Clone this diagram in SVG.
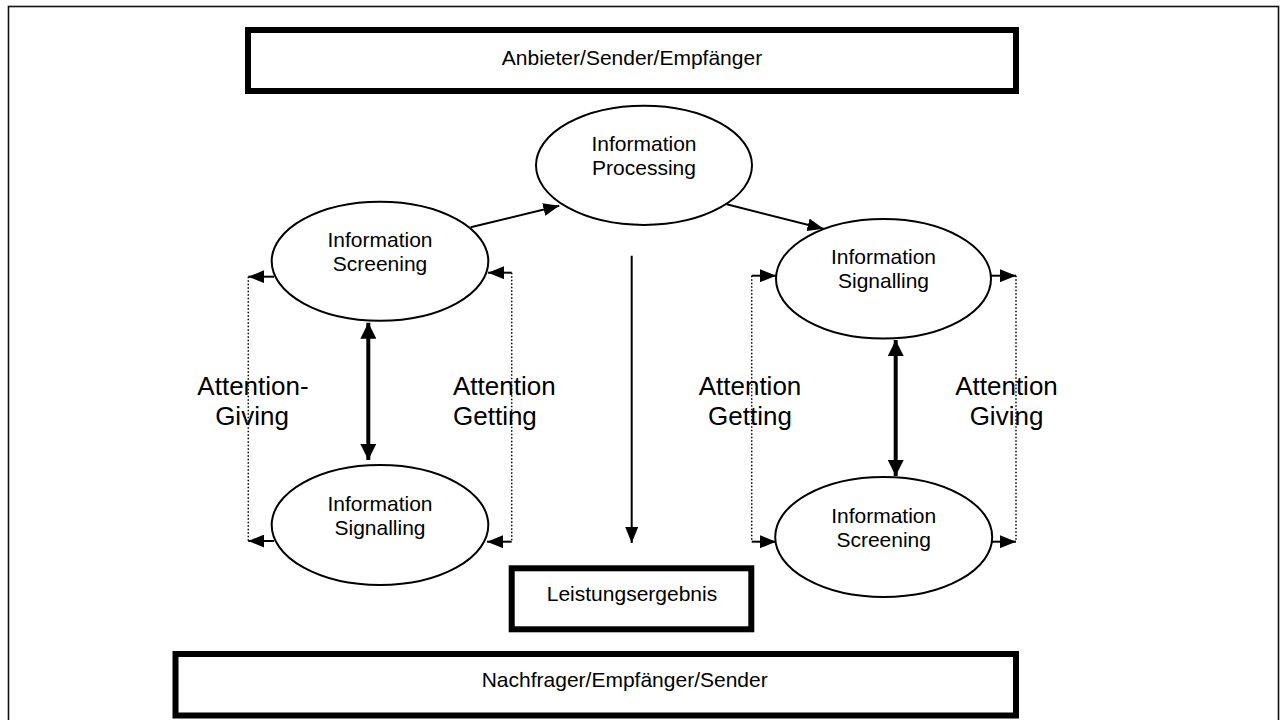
<svg xmlns="http://www.w3.org/2000/svg" width="1281" height="720" viewBox="0 0 1281 720">
  <defs>
    <style>
      .frame { fill: none; stroke: #111; stroke-width: 1.6; }
      .box { fill: #fff; stroke: #000; stroke-width: 6; }
      .ell { fill: #fff; stroke: #000; stroke-width: 2; }
      .lbl { font-family: "Liberation Sans", Arial, sans-serif; font-size: 21px; fill: #000; text-anchor: middle; }
      .boxlbl { font-family: "Liberation Sans", Arial, sans-serif; font-size: 21px; fill: #000; text-anchor: middle; }
      .big { font-family: "Liberation Sans", Arial, sans-serif; font-size: 26px; fill: #000; text-anchor: middle; }
      .start { text-anchor: start; }
      .thin { fill: none; stroke: #000; stroke-width: 2; }
      .thick { fill: none; stroke: #000; stroke-width: 4; }
      .dot { fill: none; stroke: #000; stroke-width: 1.5; stroke-dasharray: 1.5 2; }
    </style>
    <marker id="head" markerUnits="userSpaceOnUse" markerWidth="16" markerHeight="13" refX="16" refY="6.5" orient="auto">
      <path d="M0,0 L16,6.5 L0,13 z" fill="#000"/>
    </marker>
    <marker id="headBig" markerUnits="userSpaceOnUse" markerWidth="16" markerHeight="16" refX="16" refY="8" orient="auto-start-reverse">
      <path d="M0,0 L16,8 L0,16 z" fill="#000"/>
    </marker>
  </defs>

  <rect width="1281" height="720" fill="#fff"/>
  <rect class="frame" x="8.5" y="6.5" width="1270" height="730"/>

  <!-- attention labels -->
  <g id="label-attention-giving-left">
    <text class="big" x="253" y="395">Attention-</text>
    <text class="big" x="252" y="425">Giving</text>
  </g>
  <g id="label-attention-getting-left">
    <text class="big start" x="453" y="395">Attention</text>
    <text class="big start" x="453" y="425">Getting</text>
  </g>
  <g id="label-attention-getting-right">
    <text class="big" x="750" y="395">Attention</text>
    <text class="big" x="750" y="425">Getting</text>
  </g>
  <g id="label-attention-giving-right">
    <text class="big" x="1006.5" y="395">Attention</text>
    <text class="big" x="1006.5" y="425">Giving</text>
  </g>

  <!-- connectors -->
  <g id="connectors">
    <!-- screening to processing, processing to signalling -->
    <line class="thin" x1="470.7" y1="227.3" x2="559.3" y2="205.7" marker-end="url(#head)"/>
    <line class="thin" x1="726.7" y1="204.3" x2="823.5" y2="228.8" marker-end="url(#head)"/>
    <!-- processing down to Leistungsergebnis -->
    <line class="thin" x1="631.7" y1="255.7" x2="631.7" y2="543" marker-end="url(#head)"/>
    <!-- two-way links between the ellipse pairs -->
    <line class="thick" x1="368.3" y1="322.7" x2="368.3" y2="460" marker-start="url(#headBig)" marker-end="url(#headBig)"/>
    <line class="thick" x1="895.7" y1="340" x2="895.7" y2="476" marker-start="url(#headBig)" marker-end="url(#headBig)"/>

    <!-- left pair: outer side -->
    <line class="dot" x1="248.3" y1="276.7" x2="248.3" y2="541"/>
    <line class="thin" x1="274" y1="276.7" x2="248.3" y2="276.7" marker-end="url(#head)"/>
    <line class="thin" x1="274" y1="541" x2="248.3" y2="541" marker-end="url(#head)"/>
    <!-- left pair: inner side -->
    <line class="dot" x1="511.7" y1="272.7" x2="511.7" y2="541.7"/>
    <line class="thin" x1="511.7" y1="272.7" x2="488" y2="272.7" marker-end="url(#head)"/>
    <line class="thin" x1="511.7" y1="541.7" x2="487" y2="541.7" marker-end="url(#head)"/>

    <!-- right pair: inner side -->
    <line class="dot" x1="751.7" y1="275.7" x2="751.7" y2="541.7"/>
    <line class="thin" x1="751.7" y1="275.7" x2="776" y2="275.7" marker-end="url(#head)"/>
    <line class="thin" x1="751.7" y1="541.7" x2="776" y2="541.7" marker-end="url(#head)"/>
    <!-- right pair: outer side -->
    <line class="dot" x1="1016" y1="275.7" x2="1016" y2="541.7"/>
    <line class="thin" x1="990.5" y1="275.7" x2="1016" y2="275.7" marker-end="url(#head)"/>
    <line class="thin" x1="992" y1="541.7" x2="1016" y2="541.7" marker-end="url(#head)"/>
  </g>

  <g id="box-anbieter">
    <rect class="box" x="248" y="30" width="768" height="61"/>
    <text class="boxlbl" x="632" y="65">Anbieter/Sender/Empfänger</text>
  </g>

  <g id="node-processing">
    <ellipse class="ell" cx="644" cy="165.3" rx="108" ry="59.6"/>
    <text class="lbl" x="644" y="150.7">Information</text>
    <text class="lbl" x="644" y="175">Processing</text>
  </g>

  <g id="node-screening-left">
    <ellipse class="ell" cx="380" cy="261.2" rx="108.3" ry="59.5"/>
    <text class="lbl" x="380" y="247">Information</text>
    <text class="lbl" x="380" y="271">Screening</text>
  </g>

  <g id="node-signalling-left">
    <ellipse class="ell" cx="380" cy="525" rx="108.3" ry="60"/>
    <text class="lbl" x="380" y="510.7">Information</text>
    <text class="lbl" x="380" y="534.5">Signalling</text>
  </g>

  <g id="node-signalling-right">
    <ellipse class="ell" cx="883.5" cy="278.8" rx="107.5" ry="59.8"/>
    <text class="lbl" x="883.5" y="263.5">Information</text>
    <text class="lbl" x="883.5" y="287.5">Signalling</text>
  </g>

  <g id="node-screening-right">
    <ellipse class="ell" cx="883.7" cy="537" rx="108.5" ry="60"/>
    <text class="lbl" x="883.7" y="522.7">Information</text>
    <text class="lbl" x="883.7" y="546.7">Screening</text>
  </g>

  <g id="box-leistungsergebnis">
    <rect class="box" x="511.7" y="568.3" width="239.6" height="61"/>
    <text class="boxlbl" x="632" y="601">Leistungsergebnis</text>
  </g>

  <g id="box-nachfrager">
    <rect class="box" x="175.5" y="654" width="840.5" height="61.5"/>
    <text class="boxlbl" x="624.7" y="686.7">Nachfrager/Empfänger/Sender</text>
  </g>
</svg>
